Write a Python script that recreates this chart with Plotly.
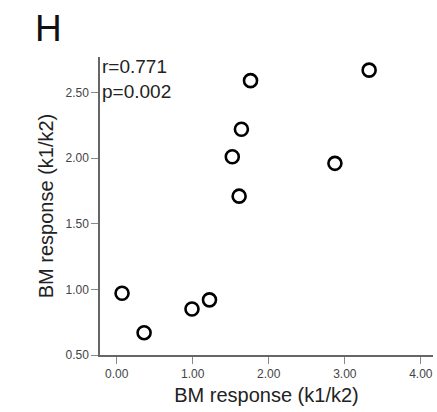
import plotly.graph_objects as go

x_vals = [0.07, 0.36, 0.99, 1.22, 1.76, 3.32, 1.64, 1.52, 2.87, 1.61]
y_vals = [0.97, 0.67, 0.85, 0.92, 2.59, 2.67, 2.22, 2.01, 1.96, 1.71]
x_ticks = [0, 1, 2, 3, 4]
x_tick_labels = ["0.00", "1.00", "2.00", "3.00", "4.00"]
y_ticks = [0.5, 1.0, 1.5, 2.0, 2.5]
y_tick_labels = ["0.50", "1.00", "1.50", "2.00", "2.50"]
stats_text = "r=0.771<br>p=0.002"
panel_label = "H"
axis_title = "BM response (k1/k2)"

fig = go.Figure(go.Scatter(
    x=x_vals, y=y_vals, mode="markers",
    marker=dict(symbol="circle-open", size=13, color="black", line=dict(width=2.6, color="black")),
    showlegend=False,
))

font_family = "Liberation Sans, Arial, sans-serif"
fig.update_layout(
    width=437, height=412,
    margin=dict(l=100, r=4, t=57, b=57),
    plot_bgcolor="white", paper_bgcolor="white",
    font=dict(family=font_family, color="#222"),
)
fig.update_xaxes(
    range=[-0.22, 4.16], tickvals=x_ticks, ticktext=x_tick_labels,
    showgrid=False, zeroline=False, showline=True, linecolor="#666", linewidth=1.5,
    ticks="outside", ticklen=7, tickcolor="#888", tickwidth=1,
    tickfont=dict(size=12, color="#444"), automargin=False,
    title=dict(text=axis_title, font=dict(size=20, color="#222"), standoff=8),
)
fig.update_yaxes(
    range=[0.5, 2.77], tickvals=y_ticks, ticktext=y_tick_labels,
    showgrid=False, zeroline=False, showline=True, linecolor="#666", linewidth=1.5,
    ticks="outside", ticklen=7, tickcolor="#888", tickwidth=1,
    tickfont=dict(size=12, color="#444"), automargin=False,
    title=dict(text=axis_title, font=dict(size=20, color="#222"), standoff=6),
)
fig.add_annotation(
    xref="paper", yref="paper", x=0.0, y=1.01, xanchor="left", yanchor="top",
    text=stats_text, showarrow=False, align="left",
    font=dict(size=19, color="#222", family=font_family),
)
fig.add_annotation(
    xref="paper", yref="paper", x=-0.2, y=1.17, xanchor="left", yanchor="top",
    text=panel_label, showarrow=False,
    font=dict(size=37, color="#111", family=font_family),
)
fig.write_html("out.html", config={"displayModeBar": False},
               post_script="document.body.style.margin='0';document.body.style.overflow='hidden';")
